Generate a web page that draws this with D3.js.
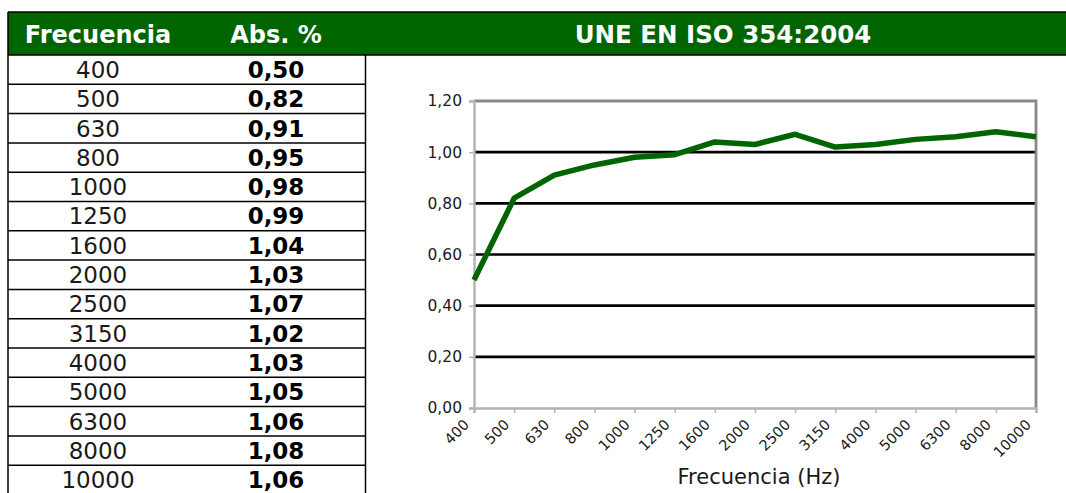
<!DOCTYPE html>
<html>
  <head>
    <meta charset="utf-8">
    <script src="https://d3js.org/d3.v7.min.js"></script>
    <style>
      body { margin: 0; background: #fff; }
    </style>
  </head>
<body>
  <div id="chart"></div>

  <script type="text/javascript">

      // DATA
      var frecuencias = ["400", "500", "630", "800", "1000", "1250", "1600", "2000",
                         "2500", "3150", "4000", "5000", "6300", "8000", "10000"];
      var absorcion = [0.50, 0.82, 0.91, 0.95, 0.98, 0.99, 1.04, 1.03,
                       1.07, 1.02, 1.03, 1.05, 1.06, 1.08, 1.06];
      var yTicks = [0, 0.2, 0.4, 0.6, 0.8, 1.0, 1.2];
      var cabeceras = ["Frecuencia", "Abs. %"];
      var titulo = "UNE EN ISO 354:2004";
      var tituloEjeX = "Frecuencia (Hz)";

      var verde = "#006400";
      var fuente = "'DejaVu Sans', Verdana, sans-serif";

      var es = d3.formatLocale({decimal: ",", thousands: ".", grouping: [3], currency: ["", " €"]});
      var fmt = es.format(".2f");

      var svg = d3.select("#chart").append("svg")
          .attr("width", 1066)
          .attr("height", 493)
          .style("font-family", fuente);

      // HEADER BAND
      svg.append("rect")
          .attr("x", 8).attr("y", 12)
          .attr("width", 1066).attr("height", 43)
          .style("fill", verde);
      svg.append("line")
          .attr("x1", 8).attr("x2", 1066).attr("y1", 12).attr("y2", 12)
          .style("stroke", "black").style("stroke-width", 1.5);
      svg.append("line")
          .attr("x1", 8).attr("x2", 1066).attr("y1", 55).attr("y2", 55)
          .style("stroke", "black").style("stroke-width", 1.5);

      var colX = [98, 276];
      svg.selectAll("text.cab")
          .data(cabeceras)
          .enter()
          .append("text")
          .attr("class", "cab")
          .attr("x", function (d, i) { return colX[i]; })
          .attr("y", 34)
          .attr("dy", "0.36em")
          .style("text-anchor", "middle")
          .style("font-size", "24px")
          .style("font-weight", "bold")
          .style("fill", "white")
          .text(function (d) { return d; });

      svg.append("text")
          .attr("x", 723)
          .attr("y", 34)
          .attr("dy", "0.36em")
          .style("text-anchor", "middle")
          .style("font-size", "24.5px")
          .style("font-weight", "bold")
          .style("fill", "white")
          .text(titulo);

      // TABLE
      var rowH = 29.3;
      var filas = d3.scaleBand()
          .domain(frecuencias)
          .range([55, 55 + rowH * frecuencias.length]);

      svg.append("line")
          .attr("x1", 8).attr("x2", 8).attr("y1", 12).attr("y2", 493)
          .style("stroke", "black").style("stroke-width", 1.5);
      svg.append("line")
          .attr("x1", 365.5).attr("x2", 365.5).attr("y1", 55).attr("y2", 493)
          .style("stroke", "black").style("stroke-width", 1.5);

      svg.selectAll("line.fila")
          .data(frecuencias)
          .enter()
          .append("line")
          .attr("class", "fila")
          .attr("x1", 8).attr("x2", 366)
          .attr("y1", function (d) { return filas(d) + filas.bandwidth(); })
          .attr("y2", function (d) { return filas(d) + filas.bandwidth(); })
          .style("stroke", "black").style("stroke-width", 1.5);

      svg.selectAll("text.freq")
          .data(frecuencias)
          .enter()
          .append("text")
          .attr("class", "freq")
          .attr("x", colX[0])
          .attr("y", function (d) { return filas(d) + filas.bandwidth() / 2; })
          .attr("dy", "0.36em")
          .style("text-anchor", "middle")
          .style("font-size", "23px")
          .style("fill", "#1a1a1a")
          .text(function (d) { return d; });

      svg.selectAll("text.abs")
          .data(absorcion)
          .enter()
          .append("text")
          .attr("class", "abs")
          .attr("x", colX[1])
          .attr("y", function (d, i) { return filas(frecuencias[i]) + filas.bandwidth() / 2; })
          .attr("dy", "0.36em")
          .style("text-anchor", "middle")
          .style("font-size", "23px")
          .style("font-weight", "bold")
          .style("fill", "black")
          .text(function (d) { return fmt(d); });

      // CHART
      var x = d3.scalePoint().domain(frecuencias).range([474, 1036]);
      var y = d3.scaleLinear().domain([0, 1.2]).range([408, 101]);

      // gridlines
      svg.selectAll("line.grid")
          .data(yTicks.filter(function (d) { return d > 0 && d < 1.2; }))
          .enter()
          .append("line")
          .attr("class", "grid")
          .attr("x1", 474).attr("x2", 1036)
          .attr("y1", function (d) { return y(d); })
          .attr("y2", function (d) { return y(d); })
          .style("stroke", "black").style("stroke-width", 2.6);

      // top + right border
      svg.append("path")
          .attr("d", "M474," + y(1.2) + "H1036V" + y(0))
          .style("fill", "none")
          .style("stroke", "#888888")
          .style("stroke-width", 2.8);

      // Y AXIS
      var gy = svg.append("g")
          .attr("transform", "translate(474,0)")
          .call(d3.axisLeft(y).tickValues(yTicks).tickFormat(fmt).tickSizeOuter(0).tickSize(5).tickPadding(7));
      gy.select(".domain").style("stroke", "#b3b3b3").style("stroke-width", 2.4);
      gy.selectAll(".tick line").style("stroke", "#b3b3b3").style("stroke-width", 1.5);
      gy.selectAll(".tick text")
          .style("font-family", fuente)
          .style("font-size", "15.5px")
          .style("fill", "#1a1a1a");

      // X AXIS
      var gx = svg.append("g")
          .attr("transform", "translate(0," + y(0) + ")")
          .call(d3.axisBottom(x).tickSizeOuter(0).tickSize(5));
      gx.select(".domain").style("stroke", "#b3b3b3").style("stroke-width", 2.4);
      gx.selectAll(".tick line").style("stroke", "#b3b3b3").style("stroke-width", 1.5);
      gx.selectAll(".tick text")
          .style("font-family", fuente)
          .style("font-size", "14.5px")
          .style("fill", "#1a1a1a")
          .style("text-anchor", "end")
          .attr("x", 0).attr("y", 0).attr("dy", "0.35em")
          .attr("transform", "translate(-8,14) rotate(-45)");

      svg.append("text")
          .attr("x", 759)
          .attr("y", 484)
          .style("text-anchor", "middle")
          .style("font-size", "21px")
          .style("fill", "#1a1a1a")
          .text(tituloEjeX);

      // LINE
      var linea = d3.line()
          .x(function (d, i) { return x(frecuencias[i]); })
          .y(function (d) { return y(d); });

      svg.append("path")
          .datum(absorcion)
          .attr("d", linea)
          .style("fill", "none")
          .style("stroke", verde)
          .style("stroke-width", 5.5)
          .style("stroke-linejoin", "round");

  </script>

</body>
</html>
